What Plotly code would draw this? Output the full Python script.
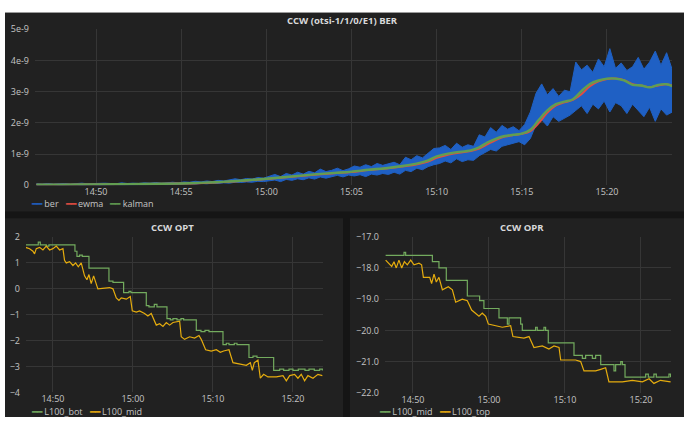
import pandas as pd
import plotly.graph_objects as go

DAY = "2021-01-01 "

# ---------------- top panel: BER (values in units of 1e-9) ----------------
# upper and lower edges of the noisy "ber" trace, sampled every 20 s
ber_start = "14:46:30"
ber_step = "20s"
ber_peaks = [0.05, 0.04, 0.06, 0.04, 0.05, 0.06, 0.04, 0.05, 0.07, 0.05,
             0.06, 0.05, 0.07, 0.06, 0.05, 0.08, 0.06, 0.07, 0.06, 0.08,
             0.07, 0.09, 0.07, 0.08, 0.10, 0.08,
             0.11, 0.10, 0.13, 0.11, 0.14, 0.12, 0.16, 0.14, 0.17, 0.21, 0.18, 0.22, 0.20, 0.25, 0.23,
             0.30, 0.35, 0.28, 0.38, 0.33, 0.42, 0.36, 0.45, 0.40, 0.52, 0.44, 0.48, 0.55, 0.47, 0.53,
             0.62, 0.58, 0.66, 0.60, 0.70, 0.64, 0.68, 0.74, 0.66, 0.90, 0.82, 0.95, 0.88, 1.02, 1.18,
             1.20, 1.28, 1.15, 1.35, 1.22, 1.30, 1.25, 1.62, 1.55, 1.85, 1.70, 1.92, 1.80, 1.88, 1.75,
             1.95, 2.35, 2.95, 3.25, 2.90, 3.10, 2.85, 3.05, 3.00,
             3.95, 3.70, 3.85, 3.62, 4.05, 3.80, 4.38, 3.75, 3.92, 3.68,
             3.80, 4.10, 3.72, 3.95, 4.30, 3.85, 4.25, 3.70]
ber_troughs = [0.00, 0.01, 0.00, 0.01, 0.00, 0.01, 0.00, 0.01, 0.00, 0.01,
               0.01, 0.00, 0.01, 0.01, 0.02, 0.01, 0.02, 0.01, 0.02, 0.02,
               0.03, 0.02, 0.03, 0.02, 0.03, 0.03,
               0.03, 0.05, 0.04, 0.06, 0.05, 0.07, 0.06, 0.08, 0.07, 0.10, 0.09, 0.11, 0.10, 0.13, 0.12,
               0.14, 0.17, 0.12, 0.19, 0.16, 0.21, 0.18, 0.24, 0.20, 0.27, 0.23, 0.28, 0.32, 0.27, 0.33,
               0.30, 0.34, 0.28, 0.36, 0.33, 0.38, 0.35, 0.42, 0.36, 0.48, 0.44, 0.55, 0.50, 0.60, 0.66,
               0.70, 0.78, 0.72, 0.85, 0.76, 0.82, 0.80, 0.95, 1.05, 1.15, 1.10, 1.25, 1.30, 1.35, 1.40,
               1.30, 1.50, 1.95, 2.10, 1.90, 2.20, 2.05, 2.15, 2.25,
               2.40, 2.55, 2.30, 2.60, 2.45, 2.70, 2.35, 2.65, 2.55, 2.30,
               2.60, 2.40, 2.20, 2.50, 2.05, 2.45, 2.25, 2.35]

kalman_t = ["14:46:30", "14:48:00", "14:50:00", "14:52:00", "14:54:00", "14:55:00", "14:56:00",
            "14:57:00", "14:58:00", "14:59:00", "15:00:00", "15:01:00", "15:02:00", "15:03:00",
            "15:04:00", "15:05:00", "15:06:00", "15:07:00", "15:08:00", "15:09:00", "15:09:30",
            "15:10:00", "15:11:00", "15:12:00", "15:12:30", "15:13:00", "15:13:30", "15:14:00",
            "15:14:30", "15:15:00", "15:15:30", "15:16:00", "15:16:30", "15:17:00", "15:17:30",
            "15:18:00", "15:18:30", "15:19:00", "15:19:30", "15:20:00", "15:20:30", "15:21:00",
            "15:21:30", "15:22:00", "15:22:30", "15:23:00", "15:23:30", "15:23:50"]
kalman_v = [0.02, 0.02, 0.03, 0.04, 0.05, 0.06, 0.08,
            0.10, 0.13, 0.17, 0.21, 0.26, 0.31, 0.36,
            0.40, 0.44, 0.50, 0.55, 0.62, 0.72, 0.80,
            0.93, 1.05, 1.12, 1.22, 1.38, 1.50, 1.58,
            1.62, 1.66, 1.78, 2.10, 2.40, 2.60, 2.68,
            2.76, 3.02, 3.25, 3.36, 3.42, 3.42, 3.36,
            3.22, 3.20, 3.14, 3.22, 3.24, 3.18]
ewma_v = [0.02, 0.02, 0.03, 0.04, 0.05, 0.06, 0.07,
          0.09, 0.12, 0.16, 0.20, 0.25, 0.30, 0.35,
          0.39, 0.43, 0.49, 0.54, 0.60, 0.69, 0.76,
          0.88, 1.02, 1.10, 1.18, 1.32, 1.46, 1.56,
          1.61, 1.65, 1.74, 2.00, 2.33, 2.56, 2.66,
          2.74, 2.92, 3.18, 3.33, 3.41, 3.42, 3.37,
          3.24, 3.20, 3.15, 3.20, 3.24, 3.19]

# ---------------- bottom-left panel: CCW OPT ----------------
opt_bot_t = ["14:46:35", "14:48:00", "14:48:10", "14:48:25", "14:49:10", "14:49:30", "14:52:45",
             "14:53:00", "14:53:20", "14:53:40", "14:54:30", "14:57:00", "14:57:30", "14:58:50",
             "14:59:30", "14:59:45", "15:01:40", "15:02:00", "15:02:40", "15:03:00", "15:04:15",
             "15:04:40", "15:05:00", "15:05:30", "15:06:00", "15:06:20", "15:07:55", "15:08:30",
             "15:09:00", "15:09:30", "15:11:15", "15:11:40", "15:12:00", "15:12:40", "15:13:00",
             "15:14:30", "15:15:00", "15:15:30", "15:17:35", "15:18:20", "15:18:50", "15:19:30",
             "15:20:00", "15:20:40", "15:21:30", "15:22:00", "15:22:40", "15:23:20", "15:23:40"]
opt_bot_v = [1.70, 1.70, 1.80, 1.70, 1.65, 1.70, 1.45,
             1.25, 1.30, 1.25, 0.80, 0.30, 0.25, -0.15,
             -0.10, -0.15, -0.65, -0.70, -0.60, -0.70, -1.15,
             -1.20, -1.15, -1.20, -1.15, -1.20, -1.60, -1.65,
             -1.60, -1.65, -2.15, -2.10, -2.15, -2.10, -2.15,
             -2.65, -2.60, -2.65, -3.15, -3.10, -3.15, -3.10,
             -3.15, -3.10, -3.15, -3.10, -3.15, -3.10, -3.15]
opt_mid_t = ["14:46:35", "14:47:05", "14:47:30", "14:47:42", "14:47:55", "14:48:20", "14:48:45",
             "14:49:10", "14:49:35", "14:50:00", "14:50:25", "14:50:50", "14:51:15", "14:51:27",
             "14:51:40", "14:52:05", "14:52:30", "14:52:50", "14:53:10", "14:53:32", "14:53:57",
             "14:54:15", "14:54:30", "14:54:47", "14:55:05", "14:55:25", "14:55:37", "14:57:05",
             "14:57:30", "14:57:55", "14:58:15", "14:58:32", "14:59:10", "14:59:40", "14:59:55",
             "15:00:25", "15:00:50", "15:01:27", "15:01:52", "15:02:17", "15:02:55", "15:03:20",
             "15:03:45", "15:04:10", "15:04:35", "15:05:00", "15:05:50", "15:06:02", "15:06:27",
             "15:07:05", "15:07:42", "15:08:15", "15:08:32", "15:09:05", "15:09:47", "15:10:25",
             "15:10:55", "15:11:20", "15:12:00", "15:12:30", "15:13:20", "15:14:10", "15:14:40",
             "15:14:55", "15:15:10", "15:15:37", "15:15:55", "15:16:20", "15:16:52", "15:17:55",
             "15:18:45", "15:19:10", "15:19:35", "15:20:12", "15:20:37", "15:21:02", "15:21:27",
             "15:21:52", "15:22:30", "15:23:07", "15:23:40"]
opt_mid_v = [1.60, 1.55, 1.45, 1.35, 1.55, 1.60, 1.50,
             1.65, 1.50, 1.55, 1.65, 1.50, 1.55, 1.10,
             1.00, 1.05, 0.90, 1.00, 0.85, 1.00, 0.50,
             0.35, 0.55, 0.20, 0.50, 0.15, 0.00, 0.05,
             0.00, -0.35, -0.45, -0.35, -0.40, -0.30, -0.85,
             -0.90, -0.85, -0.95, -1.05, -0.95, -1.40, -1.35,
             -1.45, -1.30, -1.40, -1.30, -1.25, -1.85, -1.95,
             -1.85, -1.90, -1.80, -1.95, -2.35, -2.40, -2.35,
             -2.45, -2.40, -2.35, -2.85, -2.90, -2.95, -2.85,
             -3.15, -2.85, -2.75, -3.45, -3.30, -3.40, -3.40,
             -3.35, -3.55, -3.35, -3.30, -3.45, -3.30, -3.55,
             -3.35, -3.45, -3.30, -3.35]

# ---------------- bottom-right panel: CCW OPR ----------------
opr_mid_t = ["14:46:24", "14:48:36", "14:48:49", "14:49:02", "14:52:33", "14:53:25", "14:54:23",
             "14:57:09", "14:58:46", "14:59:20", "15:01:19", "15:02:25", "15:02:38", "15:03:57",
             "15:04:10", "15:04:23", "15:06:08", "15:06:21", "15:07:14", "15:07:27", "15:07:48",
             "15:11:11", "15:12:17", "15:12:43", "15:13:36", "15:14:02", "15:14:42", "15:16:27",
             "15:16:40", "15:17:20", "15:17:33", "15:17:54", "15:20:37", "15:20:58", "15:21:42",
             "15:22:01", "15:23:41", "15:23:54"]
opr_mid_v = [-17.60, -17.60, -17.50, -17.60, -17.80, -18.00, -18.40,
             -18.90, -19.05, -19.30, -19.60, -19.80, -19.60, -19.60,
             -19.80, -20.00, -19.90, -20.00, -19.90, -20.00, -20.40,
             -20.80, -20.90, -20.80, -20.90, -20.80, -21.10, -21.30,
             -21.10, -21.00, -21.10, -21.50, -21.40, -21.50, -21.40,
             -21.50, -21.40, -21.50]
opr_top_t = ["14:46:24", "14:46:51", "14:47:12", "14:47:30", "14:47:48", "14:48:09", "14:48:31",
             "14:48:52", "14:49:15", "14:49:42", "14:50:08", "14:50:47", "14:51:08", "14:51:22",
             "14:52:12", "14:52:27", "14:52:46", "14:53:04", "14:53:25", "14:53:52", "14:54:39",
             "14:55:11", "14:55:37", "14:56:29", "14:57:09", "14:57:43", "14:58:09", "14:58:41",
             "14:59:07", "14:59:34", "14:59:55", "15:01:45", "15:02:51", "15:03:09", "15:04:36",
             "15:05:16", "15:05:55", "15:07:01", "15:07:53", "15:08:33", "15:09:13", "15:09:26",
             "15:11:24", "15:12:04", "15:12:30", "15:14:02", "15:14:42", "15:15:21", "15:15:47",
             "15:17:33", "15:18:52", "15:20:11", "15:21:04", "15:21:42", "15:22:34", "15:23:54"]
opr_top_v = [-17.75, -17.85, -17.95, -17.80, -18.00, -17.75, -18.00,
             -17.80, -17.90, -17.75, -17.90, -17.85, -17.90, -18.30,
             -18.30, -18.50, -18.20, -18.45, -18.30, -18.70, -18.60,
             -18.70, -19.10, -19.00, -19.05, -19.35, -19.45, -19.55,
             -19.45, -19.55, -19.80, -19.90, -19.85, -20.20, -20.25,
             -20.20, -20.55, -20.50, -20.60, -20.50, -20.55, -20.95,
             -20.95, -21.00, -21.30, -21.30, -21.25, -21.20, -21.65,
             -21.65, -21.60, -21.65, -21.55, -21.70, -21.60, -21.65]

# tick labels
ber_tickvals = [0, 1e-9, 2e-9, 3e-9, 4e-9, 5e-9]
ber_ticktext = ["0", "1e-9", "2e-9", "3e-9", "4e-9", "5e-9"]
opt_tickvals = [2, 1, 0, -1, -2, -3, -4]
opr_tickvals = [-17, -18, -19, -20, -21, -22]

# ---------------- styling ----------------
W, H = 684, 423
BLUE = "#1f60c4"
RED = "#e24d42"
GREEN_K = "#629e51"
GREEN = "#73ab5e"
YELLOW = "#e5ac0e"
PANEL = "#212121"
GAP = "#151515"
GRID = "#363636"
TICK = "#c4c4c4"
FONT = "Open Sans"


def T(s):
    return pd.Timestamp(DAY + s)


def px_x(p):
    return p / W


def px_y(p):
    return 1 - p / H


E = 1e-9
ber_times = pd.date_range(T(ber_start), periods=len(ber_peaks), freq=ber_step)

fig = go.Figure()

fig.add_trace(go.Scatter(x=ber_times, y=[v * E for v in ber_troughs], mode="lines", name="ber",
                         line=dict(color=BLUE, width=1), showlegend=False,
                         xaxis="x", yaxis="y"))
fig.add_trace(go.Scatter(x=ber_times, y=[v * E for v in ber_peaks], mode="lines", name="ber",
                         line=dict(color=BLUE, width=1), fill="tonexty", fillcolor=BLUE,
                         showlegend=False, xaxis="x", yaxis="y"))
fig.add_trace(go.Scatter(x=[T(t) for t in kalman_t], y=[v * E for v in ewma_v],
                         mode="lines", name="ewma", line=dict(color=RED, width=2, shape="spline"),
                         showlegend=False, xaxis="x", yaxis="y"))
fig.add_trace(go.Scatter(x=[T(t) for t in kalman_t], y=[v * E for v in kalman_v],
                         mode="lines", name="kalman", line=dict(color=GREEN_K, width=2.4, shape="spline"),
                         showlegend=False, xaxis="x", yaxis="y"))

fig.add_trace(go.Scatter(x=[T(t) for t in opt_bot_t], y=opt_bot_v, mode="lines", name="L100_bot",
                         line=dict(color=GREEN, width=1.2, shape="hv"), showlegend=False,
                         xaxis="x2", yaxis="y2"))
fig.add_trace(go.Scatter(x=[T(t) for t in opt_mid_t], y=opt_mid_v, mode="lines", name="L100_mid",
                         line=dict(color=YELLOW, width=1.2), showlegend=False,
                         xaxis="x2", yaxis="y2"))
fig.add_trace(go.Scatter(x=[T(t) for t in opr_mid_t], y=opr_mid_v, mode="lines", name="L100_mid",
                         line=dict(color=GREEN, width=1.2, shape="hv"), showlegend=False,
                         xaxis="x3", yaxis="y3"))
fig.add_trace(go.Scatter(x=[T(t) for t in opr_top_t], y=opr_top_v, mode="lines", name="L100_top",
                         line=dict(color=YELLOW, width=1.2), showlegend=False,
                         xaxis="x3", yaxis="y3"))

axis_common = dict(showgrid=True, gridcolor=GRID, gridwidth=1, zeroline=False, showline=False,
                   ticks="", tickfont=dict(family=FONT, size=9, color=TICK), fixedrange=True)
xa_common = dict(axis_common, type="date", tickformat="%H:%M")

shapes = [
    dict(type="rect", xref="paper", yref="paper", x0=px_x(5), x1=1, y0=0, y1=px_y(6),
         fillcolor=GAP, line=dict(width=0), layer="below"),
    dict(type="rect", xref="paper", yref="paper", x0=px_x(5), x1=1, y0=px_y(211), y1=px_y(6),
         fillcolor=PANEL, line=dict(width=0), layer="below"),
    dict(type="rect", xref="paper", yref="paper", x0=px_x(5), x1=px_x(343), y0=0, y1=px_y(218),
         fillcolor=PANEL, line=dict(width=0), layer="below"),
    dict(type="rect", xref="paper", yref="paper", x0=px_x(350), x1=1, y0=0, y1=px_y(218),
         fillcolor=PANEL, line=dict(width=0), layer="below"),
]


def legend_text(items):
    parts = []
    for name, color in items:
        parts.append("<span style='color:%s'>━━</span> %s" % (color, name))
    return "   ".join(parts)


title_font = dict(family=FONT, size=9.5, color="#d8d9da")
leg_font = dict(family=FONT, size=9, color=TICK)
annotations = [
    dict(text="<b>CCW (otsi-1/1/0/E1) BER</b>", x=px_x(342), y=px_y(14), xref="paper", yref="paper",
         showarrow=False, font=title_font, xanchor="center", yanchor="middle"),
    dict(text="<b>CCW OPT</b>", x=px_x(172), y=px_y(227), xref="paper", yref="paper",
         showarrow=False, font=title_font, xanchor="center", yanchor="middle"),
    dict(text="<b>CCW OPR</b>", x=px_x(522), y=px_y(227), xref="paper", yref="paper",
         showarrow=False, font=title_font, xanchor="center", yanchor="middle"),
    dict(text=legend_text([("ber", BLUE), ("ewma", RED), ("kalman", GREEN_K)]),
         x=px_x(29), y=px_y(203), xref="paper", yref="paper", showarrow=False, font=leg_font,
         xanchor="left", yanchor="middle"),
    dict(text=legend_text([("L100_bot", GREEN), ("L100_mid", YELLOW)]),
         x=px_x(29), y=px_y(417), xref="paper", yref="paper", showarrow=False, font=leg_font,
         xanchor="left", yanchor="middle"),
    dict(text=legend_text([("L100_mid", GREEN), ("L100_top", YELLOW)]),
         x=px_x(377), y=px_y(417), xref="paper", yref="paper", showarrow=False, font=leg_font,
         xanchor="left", yanchor="middle"),
]

fig.update_layout(
    width=W, height=H, margin=dict(l=0, r=0, t=0, b=0),
    paper_bgcolor="#ffffff", plot_bgcolor="rgba(0,0,0,0)",
    font=dict(family=FONT, color=TICK), showlegend=False,
    shapes=shapes, annotations=annotations, hovermode=False,
    xaxis=dict(xa_common, domain=[px_x(35), px_x(672)], anchor="y",
               range=[T("14:46:25"), T("15:23:49")], dtick=300000),
    yaxis=dict(axis_common, domain=[px_y(184), px_y(23)], anchor="x",
               range=[0, 5e-9], tickvals=ber_tickvals, ticktext=ber_ticktext, ticklabelstandoff=5),
    xaxis2=dict(xa_common, domain=[px_x(26), px_x(323)], anchor="y2",
                range=[T("14:46:38"), T("15:23:45")], dtick=600000),
    yaxis2=dict(axis_common, domain=[px_y(397.7), px_y(237.3)], anchor="x2",
                range=[-4, 2], tickvals=opt_tickvals, ticklabelstandoff=5),
    xaxis3=dict(xa_common, domain=[px_x(385), px_x(671)], anchor="y3",
                range=[T("14:46:19"), T("15:23:57")], dtick=600000),
    yaxis3=dict(axis_common, domain=[px_y(398), px_y(237)], anchor="x3",
                range=[-22, -17], tickvals=opr_tickvals, tickformat=".1f", ticklabelstandoff=5),
)

fig.write_html("out.html", post_script="document.body.style.margin='0';",
               config={"displayModeBar": False})
